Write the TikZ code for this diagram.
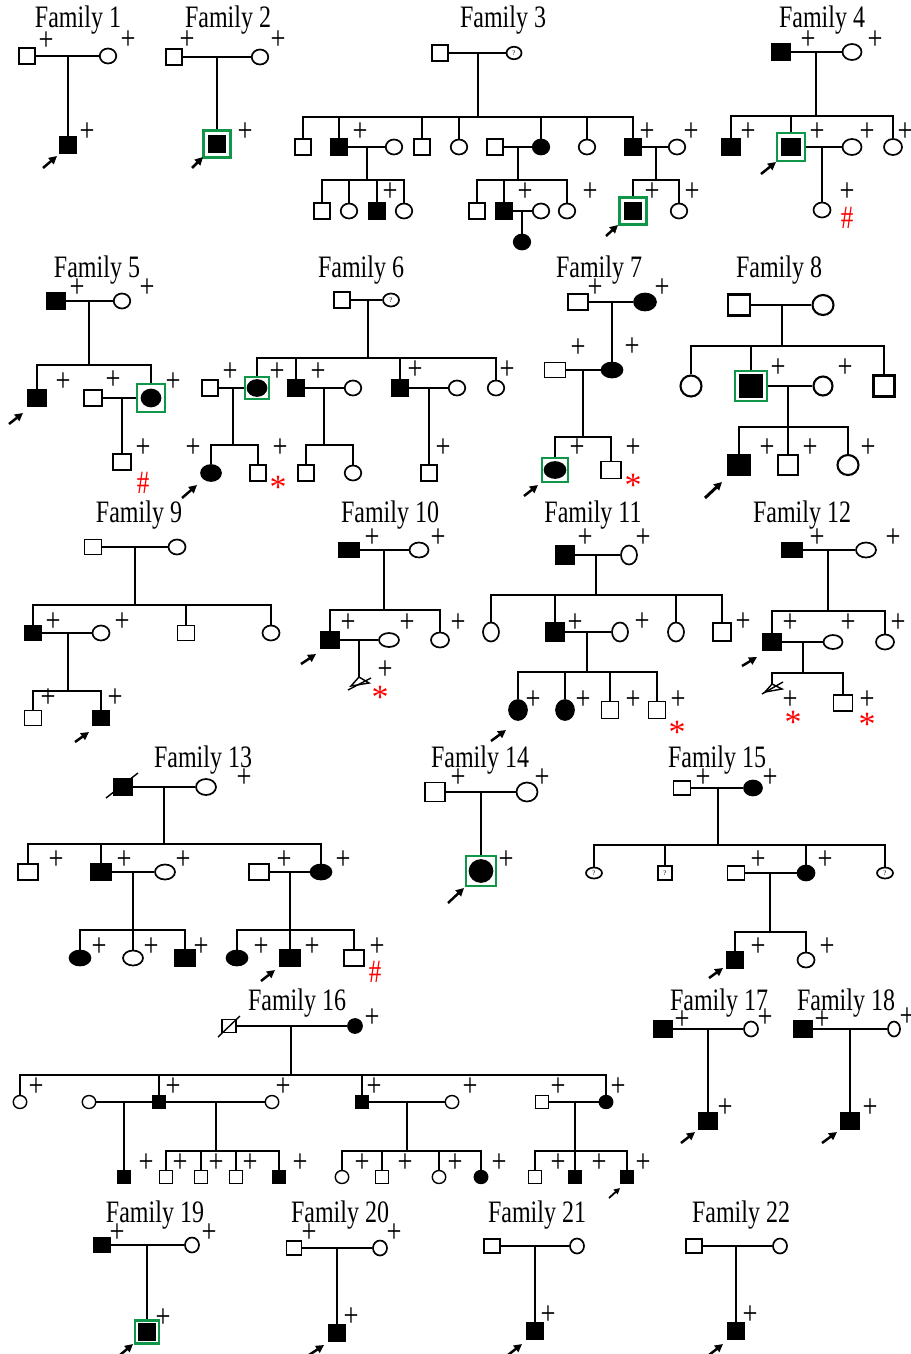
\documentclass[tikz,border=0pt]{standalone}
\usepackage{fontspec}
\usetikzlibrary{shapes.geometric,arrows.meta}
\newfontfamily\tnr{Liberation Serif}
\definecolor{boxgreen}{RGB}{16,150,72}
\newcounter{plc}
\newcommand\ttlf[1]{\scalebox{1}[1.3]{\tnr\fontsize{24}{28}\selectfont #1}}
\newcommand\pl[1]{\stepcounter{plc}\node[plus] (pl\arabic{plc}) at (#1) {\scalebox{1}[1.25]{+}};}
\newcommand\redhash[1]{\stepcounter{plc}\node[redm] (rh\arabic{plc}) at (#1) {\scalebox{1}[1.3]{\#}};}
\newcommand\redstar[1]{\stepcounter{plc}\node[redm,font=\tnr\fontsize{34}{36}\selectfont] (rs\arabic{plc}) at (#1) {*};}
\newcommand\proband[2]{\draw[parr] (#1) -- (#2);}
\tikzset{
  sq/.style={rectangle,draw,line width=1.7pt,minimum width=16.5pt,minimum height=16.5pt,inner sep=0pt,fill=white},
  ci/.style={ellipse,draw,line width=1.7pt,minimum width=16.5pt,minimum height=15pt,inner sep=0pt,fill=white},
  aff/.style={fill=black},
  sz/.style 2 args={minimum width=#1,minimum height=#2},
  gbox/.style={rectangle,draw=boxgreen,line width=2.4pt,minimum width=#1,minimum height=#1,inner sep=0pt},
  gbox/.default=27pt,
  ln/.style={line width=1.4pt},
  ln8/.style={line width=1.9pt},
  plus/.style={inner sep=0pt,font=\tnr\fontsize{26.5}{30}\selectfont},
  redm/.style={inner sep=0pt,text=red,font=\tnr\fontsize{25}{28}\selectfont},
  ttl/.style={inner sep=0pt},
  qm/.style={font=\tnr\fontsize{7}{8}\selectfont},
  parr/.style={line width=2.5pt,-{Triangle[length=8pt,width=8pt]}},
}
\begin{document}
\begin{tikzpicture}[x=1pt,y=-1pt]
\fill[white] (0,0) rectangle (910,1354);
\useasboundingbox (0,0) rectangle (910,1354);
% ---------------- Family 1
\node[ttl] (t1) at (78,20) {\ttlf{Family 1}};
\node[sq] (f1a) at (27,56) {};
\node[ci] (f1b) at (108,56) {};
\node[sq,aff] (f1c) at (68,145) {};
\coordinate (f1m) at (68,56);
\draw[ln] (f1a) -- (f1b);
\draw[ln] (f1m) -- (f1c);
\pl{46,41}\pl{128,40}\pl{87,132}
\proband{43,168}{57,156}
% ---------------- Family 2
\node[ttl] (t2) at (228,20) {\ttlf{Family 2}};
\node[sq] (f2a) at (174,57) {};
\node[ci] (f2b) at (260,57) {};
\node[sq,aff] (f2c) at (217,144) {};
\node[gbox] (f2g) at (217,144) {};
\coordinate (f2m) at (217,57);
\draw[ln] (f2a) -- (f2b);
\draw[ln] (f2m) -- (f2g);
\pl{187,40}\pl{278,40}\pl{245,132}
\proband{192,168}{203,157}
% ---------------- Family 3
\node[ttl] (t3) at (503,20) {\ttlf{Family 3}};
\node[sq] (f3a) at (440,53) {};
\node[ci,qm,sz={15pt}{12.5pt}] (f3b) at (514,53) {?};
\draw[ln] (f3a) -- (f3b);
\coordinate (f3m) at (478,53); \coordinate (f3j) at (478,117);
\draw[ln] (f3m) -- (f3j);
\node[sq] (f3c1) at (303,147) {};
\node[sq,aff] (f3c2) at (339,147) {};
\node[ci] (f3w2) at (394,147) {};
\node[sq] (f3c3) at (422,147) {};
\node[ci] (f3c4) at (459,147) {};
\node[sq] (f3h5) at (495,147) {};
\node[ci,aff] (f3c5) at (541,147) {};
\node[ci] (f3c6) at (587,147) {};
\node[sq,aff] (f3c7) at (633,147) {};
\node[ci] (f3w7) at (677,147) {};
\draw[ln] (f3c1) |- (f3j) -| (f3c7);
\foreach \nn in {f3c2,f3c3,f3c4,f3c5,f3c6} \draw[ln] (\nn) -- (\nn |- f3j);
\draw[ln] (f3c2) -- (f3w2);
\coordinate (f3m2) at (367,147); \coordinate (f3j2) at (367,180);
\draw[ln] (f3m2) -- (f3j2);
\node[sq] (f3g1) at (322,211) {};
\node[ci] (f3g2) at (349,211) {};
\node[sq,aff] (f3g3) at (377,211) {};
\node[ci] (f3g4) at (404,211) {};
\draw[ln] (f3g1) |- (f3j2) -| (f3g4);
\foreach \nn in {f3g2,f3g3} \draw[ln] (\nn) -- (\nn |- f3j2);
\draw[ln] (f3h5) -- (f3c5);
\coordinate (f3m5) at (518,147); \coordinate (f3j5) at (518,180);
\draw[ln] (f3m5) -- (f3j5);
\node[sq] (f3g5) at (477,211) {};
\node[sq,aff] (f3g6) at (504,211) {};
\node[ci] (f3g6w) at (541,211) {};
\node[ci] (f3g7) at (567,211) {};
\draw[ln] (f3g5) |- (f3j5) -| (f3g7);
\draw[ln] (f3g6) -- (f3g6 |- f3j5);
\draw[ln] (f3g6) -- (f3g6w);
\coordinate (f3m6) at (522,211);
\node[ci,aff] (f3g8) at (522,242) {};
\draw[ln] (f3m6) -- (f3g8);
\draw[ln] (f3c7) -- (f3w7);
\coordinate (f3m7) at (656,147); \coordinate (f3j7) at (656,180);
\draw[ln] (f3m7) -- (f3j7);
\node[sq,aff] (f3g9) at (633,211) {};
\node[gbox] (f3gb) at (633,211) {};
\node[ci] (f3g10) at (679,211) {};
\draw[ln] (f3gb) |- (f3j7) -| (f3g10);
\pl{360,132}\pl{647,132}\pl{691,132}\pl{390,192}\pl{525,192}\pl{590,192}\pl{652,192}\pl{692,192}
\proband{606,236}{618,225}
% ---------------- Family 4
\node[ttl] (t4) at (822,20) {\ttlf{Family 4}};
\node[sq,aff,sz={19pt}{17pt}] (f4a) at (781,52) {};
\node[ci,sz={19pt}{16pt}] (f4b) at (852,52) {};
\draw[ln] (f4a) -- (f4b);
\coordinate (f4m) at (816,52); \coordinate (f4j) at (816,116);
\draw[ln] (f4m) -- (f4j);
\node[sq,aff,sz={19pt}{17pt}] (f4c1) at (731,147) {};
\node[sq,aff,sz={19pt}{17pt}] (f4c2) at (791,147) {};
\node[gbox=27.5pt] (f4g) at (791,147) {};
\node[ci,sz={19pt}{16pt}] (f4w) at (852,147) {};
\node[ci,sz={18pt}{16pt}] (f4c3) at (893,147) {};
\draw[ln] (f4c1) |- (f4j) -| (f4c3);
\draw[ln] (f4g) -- (f4g |- f4j);
\draw[ln] (f4g) -- (f4w);
\coordinate (f4m2) at (822,147);
\node[ci,sz={17pt}{15pt}] (f4d) at (822,210) {};
\draw[ln] (f4m2) -- (f4d);
\pl{808,40}\pl{875,40}\pl{748,132}\pl{817,132}\pl{867,132}\pl{905,132}\pl{847,192}
\redhash{847,218}
\proband{761,174}{776,162}
% ---------------- Family 5
\node[ttl] (t5) at (97,270) {\ttlf{Family 5}};
\node[sq,aff,sz={19pt}{16.5pt}] (f5a) at (56,301) {};
\node[ci] (f5b) at (122,301) {};
\draw[ln] (f5a) -- (f5b);
\coordinate (f5m) at (89,301); \coordinate (f5j) at (89,365);
\draw[ln] (f5m) -- (f5j);
\node[sq,aff,sz={18pt}{17pt}] (f5c1) at (37,398) {};
\node[sq,sz={18pt}{16pt}] (f5h) at (93,398) {};
\node[ci,aff,sz={19pt}{17pt}] (f5c2) at (151,398) {};
\node[gbox=27.5pt] (f5g) at (151,398) {};
\draw[ln] (f5c1) |- (f5j) -| (f5g);
\draw[ln] (f5h) -- (f5g);
\coordinate (f5m2) at (122,398);
\node[sq,sz={18pt}{16pt}] (f5d) at (122,462) {};
\draw[ln] (f5m2) -- (f5d);
\pl{77,288}\pl{147,288}\pl{63,382}\pl{113,380}\pl{173,382}\pl{143,448}
\redhash{143,483}
\proband{9,424}{23,413}
% ---------------- Family 6
\node[ttl] (t6) at (361,270) {\ttlf{Family 6}};
\node[sq] (f6a) at (342,300) {};
\node[ci,qm,sz={16pt}{13pt}] (f6b) at (391,300) {?};
\draw[ln] (f6a) -- (f6b);
\coordinate (f6m) at (368,300); \coordinate (f6j) at (368,358);
\draw[ln] (f6m) -- (f6j);
\node[sq] (f6h1) at (210,388) {};
\node[ci,aff,sz={19pt}{16pt}] (f6c1) at (257,388) {};
\node[gbox,sz={24pt}{22pt}] (f6g1) at (257,388) {};
\node[sq,aff] (f6c2) at (296,388) {};
\node[ci] (f6w2) at (353,388) {};
\node[sq,aff] (f6c3) at (400,388) {};
\node[ci] (f6w3) at (457,388) {};
\node[ci] (f6c4) at (496,388) {};
\draw[ln] (f6g1) |- (f6j) -| (f6c4);
\foreach \nn in {f6c2,f6c3} \draw[ln] (\nn) -- (\nn |- f6j);
\draw[ln] (f6h1) -- (f6g1);
\coordinate (f6m1) at (233,388); \coordinate (f6j1) at (233,445);
\draw[ln] (f6m1) -- (f6j1);
\node[ci,aff,sz={20pt}{16pt}] (f6d1) at (211,473) {};
\node[sq] (f6d2) at (258,473) {};
\draw[ln] (f6d1) |- (f6j1) -| (f6d2);
\draw[ln] (f6c2) -- (f6w2);
\coordinate (f6m2) at (324,388); \coordinate (f6j2) at (324,445);
\draw[ln] (f6m2) -- (f6j2);
\node[sq] (f6d3) at (306,473) {};
\node[ci] (f6d4) at (353,473) {};
\draw[ln] (f6d3) |- (f6j2) -| (f6d4);
\draw[ln] (f6c3) -- (f6w3);
\coordinate (f6m3) at (429,388);
\node[sq] (f6d5) at (429,473) {};
\draw[ln] (f6m3) -- (f6d5);
\pl{230,372}\pl{277,372}\pl{318,372}\pl{415,370}\pl{507,370}\pl{193,448}\pl{280,448}\pl{443,448}
\redstar{278,487}
\proband{182,498}{197,485}
% ---------------- Family 7
\node[ttl] (t7) at (599,270) {\ttlf{Family 7}};
\node[sq,sz={20pt}{16pt}] (f7a) at (578,302) {};
\node[ci,aff,sz={22pt}{17pt}] (f7b) at (645,302) {};
\draw[ln] (f7a) -- (f7b);
\coordinate (f7m) at (612,302);
\node[ci,aff,sz={21pt}{15pt}] (f7c) at (612,370) {};
\draw[ln] (f7m) -- (f7c);
\node[sq,sz={21pt}{15pt}] (f7h) at (555,370) {};
\draw[ln] (f7h) -- (f7c);
\coordinate (f7m2) at (583,370); \coordinate (f7j) at (583,437);
\draw[ln] (f7m2) -- (f7j);
\node[ci,aff,sz={21pt}{16pt}] (f7d1) at (555,470) {};
\node[gbox,sz={26pt}{24pt}] (f7g) at (555,470) {};
\node[sq,sz={20pt}{17pt}] (f7d2) at (611,470) {};
\draw[ln] (f7g) |- (f7j) -| (f7d2);
\pl{595,288}\pl{662,288}\pl{578,348}\pl{632,347}\pl{577,448}\pl{633,448}
\redstar{633,485}
\proband{524,496}{538,485}
% ---------------- Family 8
\node[ttl] (t8) at (779,270) {\ttlf{Family 8}};
\node[sq,line width=2.1pt,sz={22pt}{21pt}] (f8a) at (739,305) {};
\node[ci,line width=2.1pt,sz={21pt}{20pt}] (f8b) at (823,305) {};
\draw[ln8] (f8a) -- (f8b);
\coordinate (f8m) at (782,305); \coordinate (f8j) at (782,346);
\draw[ln8] (f8m) -- (f8j);
\node[ci,line width=2.1pt,sz={21pt}{21pt}] (f8c1) at (691,386) {};
\node[sq,aff,sz={23pt}{22pt}] (f8c2) at (751,386) {};
\node[gbox,sz={32pt}{30pt}] (f8g) at (751,386) {};
\node[ci,line width=2.1pt,sz={19pt}{19pt}] (f8w) at (823,386) {};
\node[sq,line width=2.1pt,sz={21pt}{21pt}] (f8c3) at (884,386) {};
\draw[ln8] (f8c1) |- (f8j) -| (f8c3);
\draw[ln8] (f8g) -- (f8g |- f8j);
\draw[ln8] (f8g) -- (f8w);
\coordinate (f8m2) at (788,386); \coordinate (f8j2) at (788,427);
\draw[ln8] (f8m2) -- (f8j2);
\node[sq,aff,sz={22pt}{21pt}] (f8d1) at (739,465) {};
\node[sq,line width=2.1pt,sz={20pt}{20pt}] (f8d2) at (788,465) {};
\node[ci,line width=2.1pt,sz={21pt}{20pt}] (f8d3) at (848,465) {};
\draw[ln8] (f8d1) |- (f8j2) -| (f8d3);
\draw[ln8] (f8j2) -- (f8d2);
\pl{778,368}\pl{845,368}\pl{767,448}\pl{810,448}\pl{868,448}
\draw[parr,line width=3pt] (705,498) -- (722,482);
% ---------------- Family 9
\node[ttl] (t9) at (139,515) {\ttlf{Family 9}};
\node[sq,sz={17pt}{15pt}] (f9a) at (93,547) {};
\node[ci,sz={17pt}{15pt}] (f9b) at (177,547) {};
\draw[ln] (f9a) -- (f9b);
\coordinate (f9m) at (135,547); \coordinate (f9j) at (135,605);
\draw[ln] (f9m) -- (f9j);
\node[sq,aff,sz={17pt}{15pt}] (f9c1) at (33,633) {};
\node[ci,sz={17pt}{15pt}] (f9w) at (101,633) {};
\node[sq,sz={17pt}{15pt}] (f9c2) at (186,633) {};
\node[ci,sz={17pt}{15pt}] (f9c3) at (271,633) {};
\draw[ln] (f9c1) |- (f9j) -| (f9c3);
\draw[ln] (f9c2) -- (f9c2 |- f9j);
\draw[ln] (f9c1) -- (f9w);
\coordinate (f9m2) at (68,633); \coordinate (f9j2) at (68,691);
\draw[ln] (f9m2) -- (f9j2);
\node[sq,sz={17pt}{15pt}] (f9d1) at (33,718) {};
\node[sq,aff,sz={17pt}{15pt}] (f9d2) at (101,718) {};
\draw[ln] (f9d1) |- (f9j2) -| (f9d2);
\pl{53,622}\pl{122,622}\pl{48,698}\pl{115,698}
\proband{75,742}{89,732}
% ---------------- Family 10
\node[ttl] (t10) at (390,515) {\ttlf{Family 10}};
\node[sq,aff,sz={20pt}{15pt}] (f10a) at (349,550) {};
\node[ci,sz={19pt}{15pt}] (f10b) at (419,550) {};
\draw[ln] (f10a) -- (f10b);
\coordinate (f10m) at (384,550); \coordinate (f10j) at (384,610);
\draw[ln] (f10m) -- (f10j);
\node[sq,aff,sz={19pt}{16pt}] (f10c1) at (330,640) {};
\node[ci,sz={20pt}{14pt}] (f10w) at (389,640) {};
\node[ci,sz={18pt}{15pt}] (f10c2) at (440,640) {};
\draw[ln] (f10c1) |- (f10j) -| (f10c2);
\draw[ln] (f10c1) -- (f10w);
\coordinate (f10m2) at (359,640); \coordinate (f10t) at (359,677);
\draw[ln] (f10m2) -- (f10t);
\draw[ln] (f10t) -- (351,686) -- (369,683) -- cycle;
\draw[ln] (348,690) -- (371,678);
\pl{372,538}\pl{438,538}\pl{348,623}\pl{407,623}\pl{458,623}\pl{385,670}
\redstar{380,697}
\proband{301,664}{316,654}
% ---------------- Family 11
\node[ttl] (t11) at (593,515) {\ttlf{Family 11}};
\node[sq,aff,sz={19pt}{19pt}] (f11a) at (565,555) {};
\node[ci,sz={16pt}{19pt}] (f11b) at (629,555) {};
\draw[ln] (f11a) -- (f11b);
\coordinate (f11m) at (596,555); \coordinate (f11j) at (596,595);
\draw[ln] (f11m) -- (f11j);
\node[ci,sz={16pt}{19pt}] (f11c1) at (491,632) {};
\node[sq,aff,sz={19pt}{19pt}] (f11c2) at (555,632) {};
\node[ci,sz={16pt}{19pt}] (f11w) at (620,632) {};
\node[ci,sz={16pt}{19pt}] (f11c3) at (676,632) {};
\node[sq,sz={18pt}{18pt}] (f11c4) at (722,632) {};
\draw[ln] (f11c1) |- (f11j) -| (f11c4);
\foreach \nn in {f11c2,f11c3} \draw[ln] (\nn) -- (\nn |- f11j);
\draw[ln] (f11c2) -- (f11w);
\coordinate (f11m2) at (587,632); \coordinate (f11j2) at (587,672);
\draw[ln] (f11m2) -- (f11j2);
\node[ci,aff,sz={18pt}{20pt}] (f11d1) at (518,710) {};
\node[ci,aff,sz={18pt}{20pt}] (f11d2) at (565,710) {};
\node[sq,sz={17pt}{17pt}] (f11d3) at (610,710) {};
\node[sq,sz={17pt}{17pt}] (f11d4) at (657,710) {};
\draw[ln] (f11d1) |- (f11j2) -| (f11d4);
\foreach \nn in {f11d2,f11d3} \draw[ln] (\nn) -- (\nn |- f11j2);
\pl{585,538}\pl{643,538}\pl{575,623}\pl{642,622}\pl{743,622}\pl{533,700}\pl{583,700}\pl{633,700}\pl{678,700}
\redstar{677,732}
\proband{491,741}{506,730}
% ---------------- Family 12
\node[ttl] (t12) at (802,515) {\ttlf{Family 12}};
\node[sq,aff,sz={20pt}{15pt}] (f12a) at (792,550) {};
\node[ci,sz={20pt}{15pt}] (f12b) at (866,550) {};
\draw[ln] (f12a) -- (f12b);
\coordinate (f12m) at (828,550); \coordinate (f12j) at (828,611);
\draw[ln] (f12m) -- (f12j);
\node[sq,aff,sz={19pt}{16pt}] (f12c1) at (772,642) {};
\node[ci,sz={19pt}{14pt}] (f12w) at (833,642) {};
\node[ci,sz={18pt}{15pt}] (f12c2) at (885,642) {};
\draw[ln] (f12c1) |- (f12j) -| (f12c2);
\draw[ln] (f12c1) -- (f12w);
\coordinate (f12m2) at (803,642); \coordinate (f12j2) at (803,673);
\draw[ln] (f12m2) -- (f12j2);
\coordinate (f12t) at (772,684);
\node[sq,sz={19pt}{16pt}] (f12d) at (843,703) {};
\draw[ln] (f12t) |- (f12j2) -| (f12d);
\draw[ln] (f12t) -- (765,692) -- (782,689) -- cycle;
\draw[ln] (762,694) -- (783,682);
\pl{817,538}\pl{893,538}\pl{790,623}\pl{848,623}\pl{898,623}\pl{790,700}\pl{867,700}
\redstar{793,722}\redstar{867,724}
\proband{742,666}{757,657}
% ---------------- Family 13
\node[ttl] (t13) at (203,760) {\ttlf{Family 13}};
\node[sq,aff,sz={19pt}{16pt}] (f13a) at (123,787) {};
\draw[ln] (106,798) -- (138,773);
\node[ci,sz={20pt}{16pt}] (f13b) at (206,787) {};
\draw[ln] (f13a) -- (f13b);
\coordinate (f13m) at (164,787); \coordinate (f13j) at (164,844);
\draw[ln] (f13m) -- (f13j);
\node[sq,sz={20pt}{16pt}] (f13c1) at (28,872) {};
\node[sq,aff,sz={20pt}{16pt}] (f13c2) at (101,872) {};
\node[ci,sz={20pt}{15pt}] (f13w2) at (165,872) {};
\node[sq,sz={20pt}{16pt}] (f13h3) at (259,872) {};
\node[ci,aff,sz={21pt}{15pt}] (f13c3) at (321,872) {};
\draw[ln] (f13c1) |- (f13j) -| (f13c3);
\draw[ln] (f13c2) -- (f13c2 |- f13j);
\draw[ln] (f13c2) -- (f13w2);
\coordinate (f13m2) at (133,872); \coordinate (f13j2) at (133,930);
\draw[ln] (f13m2) -- (f13j2);
\node[ci,aff,sz={21pt}{15pt}] (f13d1) at (80,958) {};
\node[ci,sz={20pt}{15pt}] (f13d2) at (133,958) {};
\node[sq,aff,sz={20pt}{16pt}] (f13d3) at (185,958) {};
\draw[ln] (f13d1) |- (f13j2) -| (f13d3);
\draw[ln] (f13j2) -- (f13d2);
\draw[ln] (f13h3) -- (f13c3);
\coordinate (f13m3) at (290,872); \coordinate (f13j3) at (290,930);
\draw[ln] (f13m3) -- (f13j3);
\node[ci,aff,sz={21pt}{15pt}] (f13d4) at (237,958) {};
\node[sq,aff,sz={20pt}{16pt}] (f13d5) at (290,958) {};
\node[sq,sz={20pt}{16pt}] (f13d6) at (354,958) {};
\draw[ln] (f13d4) |- (f13j3) -| (f13d6);
\draw[ln] (f13j3) -- (f13d5);
\pl{244,778}\pl{56,860}\pl{124,860}\pl{183,860}\pl{284,860}\pl{343,860}\pl{99,947}\pl{151,947}\pl{201,947}\pl{261,947}\pl{312,947}\pl{377,947}
\redhash{375,972}
\proband{261,981}{275,970}
% ---------------- Family 14
\node[ttl] (t14) at (480,760) {\ttlf{Family 14}};
\node[sq,sz={20pt}{19pt}] (f14a) at (435,792) {};
\node[ci,sz={21pt}{19pt}] (f14b) at (527,792) {};
\draw[ln] (f14a) -- (f14b);
\coordinate (f14m) at (481,792);
\node[ci,aff,sz={23pt}{22pt}] (f14c) at (481,871) {};
\node[gbox,sz={30pt}{30pt}] (f14g) at (481,871) {};
\draw[ln] (f14m) -- (f14g);
\pl{458,778}\pl{542,778}\pl{506,860}
\proband{448,903}{464,888}
% ---------------- Family 15
\node[ttl] (t15) at (717,760) {\ttlf{Family 15}};
\node[sq,sz={17pt}{14pt}] (f15a) at (682,788) {};
\node[ci,aff,sz={18pt}{15pt}] (f15b) at (753,788) {};
\draw[ln] (f15a) -- (f15b);
\coordinate (f15m) at (718,788); \coordinate (f15j) at (718,845);
\draw[ln] (f15m) -- (f15j);
\node[ci,qm,sz={16pt}{11pt}] (f15c1) at (594,873) {?};
\node[sq,qm,sz={14pt}{14pt}] (f15c2) at (665,873) {?};
\node[sq,sz={17pt}{14pt}] (f15h) at (736,873) {};
\node[ci,aff,sz={17pt}{15pt}] (f15c3) at (806,873) {};
\node[ci,qm,sz={16pt}{11pt}] (f15c4) at (885,873) {?};
\draw[ln] (f15c1) |- (f15j) -| (f15c4);
\foreach \nn in {f15c2,f15c3} \draw[ln] (\nn) -- (\nn |- f15j);
\draw[ln] (f15h) -- (f15c3);
\coordinate (f15m2) at (770,873); \coordinate (f15j2) at (770,932);
\draw[ln] (f15m2) -- (f15j2);
\node[sq,aff,sz={17pt}{16pt}] (f15d1) at (735,960) {};
\node[ci,sz={17pt}{15pt}] (f15d2) at (806,960) {};
\draw[ln] (f15d1) |- (f15j2) -| (f15d2);
\pl{703,778}\pl{770,778}\pl{758,860}\pl{825,860}\pl{758,947}\pl{827,947}
\proband{709,978}{723,968}
% ---------------- Family 16
\node[ttl] (t16) at (297,1003) {\ttlf{Family 16}};
\node[sq,line width=1.4pt,sz={14pt}{13pt}] (f16a) at (229,1026) {};
\draw[ln] (218,1037) -- (240,1016);
\node[ci,aff,sz={14pt}{14pt}] (f16b) at (355,1026) {};
\draw[ln] (f16a) -- (f16b);
\coordinate (f16m) at (291,1026); \coordinate (f16j) at (291,1075);
\draw[ln] (f16m) -- (f16j);
\tikzset{s16/.style={line width=1.4pt,sz={13.5pt}{13pt}}}
\node[ci,s16] (f16c1) at (20,1102) {};
\node[ci,s16] (f16w2) at (89,1102) {};
\node[sq,aff,s16] (f16c2) at (159,1102) {};
\node[ci,s16] (f16w2b) at (272,1102) {};
\node[sq,aff,s16] (f16c3) at (362,1102) {};
\node[ci,s16] (f16w3) at (452,1102) {};
\node[sq,s16] (f16h4) at (542,1102) {};
\node[ci,aff,s16] (f16c4) at (606,1102) {};
\draw[ln] (f16c1) |- (f16j) -| (f16c4);
\foreach \nn in {f16c2,f16c3} \draw[ln] (\nn) -- (\nn |- f16j);
\draw[ln] (f16w2) -- (f16c2);
\coordinate (f16m1) at (124,1102);
\node[sq,aff,s16] (f16d1) at (124,1177) {};
\draw[ln] (f16m1) -- (f16d1);
\draw[ln] (f16c2) -- (f16w2b);
\coordinate (f16m2) at (216,1102); \coordinate (f16j2) at (216,1151);
\draw[ln] (f16m2) -- (f16j2);
\node[sq,s16] (f16d2) at (166,1177) {};
\node[sq,s16] (f16d3) at (201,1177) {};
\node[sq,s16] (f16d4) at (236,1177) {};
\node[sq,aff,s16] (f16d5) at (279,1177) {};
\draw[ln] (f16d2) |- (f16j2) -| (f16d5);
\foreach \nn in {f16d3,f16d4} \draw[ln] (\nn) -- (\nn |- f16j2);
\draw[ln] (f16c3) -- (f16w3);
\coordinate (f16m3) at (407,1102); \coordinate (f16j3) at (407,1151);
\draw[ln] (f16m3) -- (f16j3);
\node[ci,s16] (f16d6) at (342,1177) {};
\node[sq,s16] (f16d7) at (382,1177) {};
\node[ci,s16] (f16d8) at (439,1177) {};
\node[ci,aff,s16] (f16d9) at (481,1177) {};
\draw[ln] (f16d6) |- (f16j3) -| (f16d9);
\foreach \nn in {f16d7,f16d8} \draw[ln] (\nn) -- (\nn |- f16j3);
\draw[ln] (f16h4) -- (f16c4);
\coordinate (f16m4) at (575,1102); \coordinate (f16j4) at (575,1151);
\draw[ln] (f16m4) -- (f16j4);
\node[sq,s16] (f16d10) at (535,1177) {};
\node[sq,aff,s16] (f16d11) at (575,1177) {};
\node[sq,aff,s16] (f16d12) at (627,1177) {};
\draw[ln] (f16d10) |- (f16j4) -| (f16d12);
\draw[ln] (f16j4) -- (f16d11);
\pl{372,1018}\pl{36,1087}\pl{173,1087}\pl{283,1087}\pl{374,1087}\pl{470,1087}\pl{558,1087}\pl{618,1087}
\pl{146,1163}\pl{180,1163}\pl{216,1163}\pl{250,1163}\pl{300,1163}\pl{362,1163}\pl{405,1163}\pl{455,1163}\pl{499,1163}\pl{558,1163}\pl{599,1163}\pl{643,1163}
\draw[parr,line width=1.8pt,-{Triangle[length=6pt,width=6pt]}] (609,1198) -- (620,1188);
% ---------------- Family 17
\node[ttl] (t17) at (719,1003) {\ttlf{Family 17}};
\node[sq,aff,sz={18pt}{16pt}] (f17a) at (663,1029) {};
\node[ci,sz={14pt}{15pt}] (f17b) at (751,1029) {};
\draw[ln] (f17a) -- (f17b);
\coordinate (f17m) at (708,1029);
\node[sq,aff,sz={18pt}{16pt}] (f17c) at (708,1121) {};
\draw[ln] (f17m) -- (f17c);
\pl{682,1020}\pl{765,1018}\pl{725,1108}
\proband{681,1143}{695,1132}
% ---------------- Family 18
\node[ttl] (t18) at (846,1003) {\ttlf{Family 18}};
\node[sq,aff,sz={18pt}{16pt}] (f18a) at (803,1029) {};
\node[ci,sz={12pt}{15pt}] (f18b) at (894,1029) {};
\draw[ln] (f18a) -- (f18b);
\coordinate (f18m) at (850,1029);
\node[sq,aff,sz={18pt}{16pt}] (f18c) at (850,1121) {};
\draw[ln] (f18m) -- (f18c);
\pl{822,1020}\pl{907,1017}\pl{870,1108}
\proband{822,1143}{837,1132}
% ---------------- Family 19
\node[ttl] (t19) at (155,1215) {\ttlf{Family 19}};
\node[sq,aff,sz={16pt}{15pt}] (f19a) at (102,1245) {};
\node[ci,sz={14pt}{15pt}] (f19b) at (192,1245) {};
\draw[ln] (f19a) -- (f19b);
\coordinate (f19m) at (147,1245);
\node[sq,aff,sz={16pt}{16pt}] (f19c) at (147,1332) {};
\node[gbox,sz={24pt}{23pt}] (f19g) at (147,1332) {};
\draw[ln] (f19m) -- (f19g);
\pl{117,1233}\pl{209,1233}\pl{163,1318}
\proband{120,1355}{133,1344}
% ---------------- Family 20
\node[ttl] (t20) at (340,1215) {\ttlf{Family 20}};
\node[sq,sz={15pt}{14pt}] (f20a) at (294,1248) {};
\node[ci,sz={14pt}{15pt}] (f20b) at (380,1248) {};
\draw[ln] (f20a) -- (f20b);
\coordinate (f20m) at (337,1248);
\node[sq,aff,sz={17pt}{16pt}] (f20c) at (337,1333) {};
\draw[ln] (f20m) -- (f20c);
\pl{309,1233}\pl{394,1233}\pl{351,1317}
\proband{309,1355}{324,1345}
% ---------------- Family 21
\node[ttl] (t21) at (537,1215) {\ttlf{Family 21}};
\node[sq,sz={16pt}{14pt}] (f21a) at (492,1246) {};
\node[ci,sz={14pt}{15pt}] (f21b) at (577,1246) {};
\draw[ln] (f21a) -- (f21b);
\coordinate (f21m) at (535,1246);
\node[sq,aff,sz={17pt}{16pt}] (f21c) at (535,1331) {};
\draw[ln] (f21m) -- (f21c);
\pl{548,1315}
\proband{508,1355}{522,1344}
% ---------------- Family 22
\node[ttl] (t22) at (741,1215) {\ttlf{Family 22}};
\node[sq,sz={16pt}{14pt}] (f22a) at (694,1246) {};
\node[ci,sz={14pt}{15pt}] (f22b) at (780,1246) {};
\draw[ln] (f22a) -- (f22b);
\coordinate (f22m) at (736,1246);
\node[sq,aff,sz={17pt}{16pt}] (f22c) at (736,1331) {};
\draw[ln] (f22m) -- (f22c);
\pl{750,1315}
\proband{709,1355}{723,1344}
\end{tikzpicture}
\end{document}
